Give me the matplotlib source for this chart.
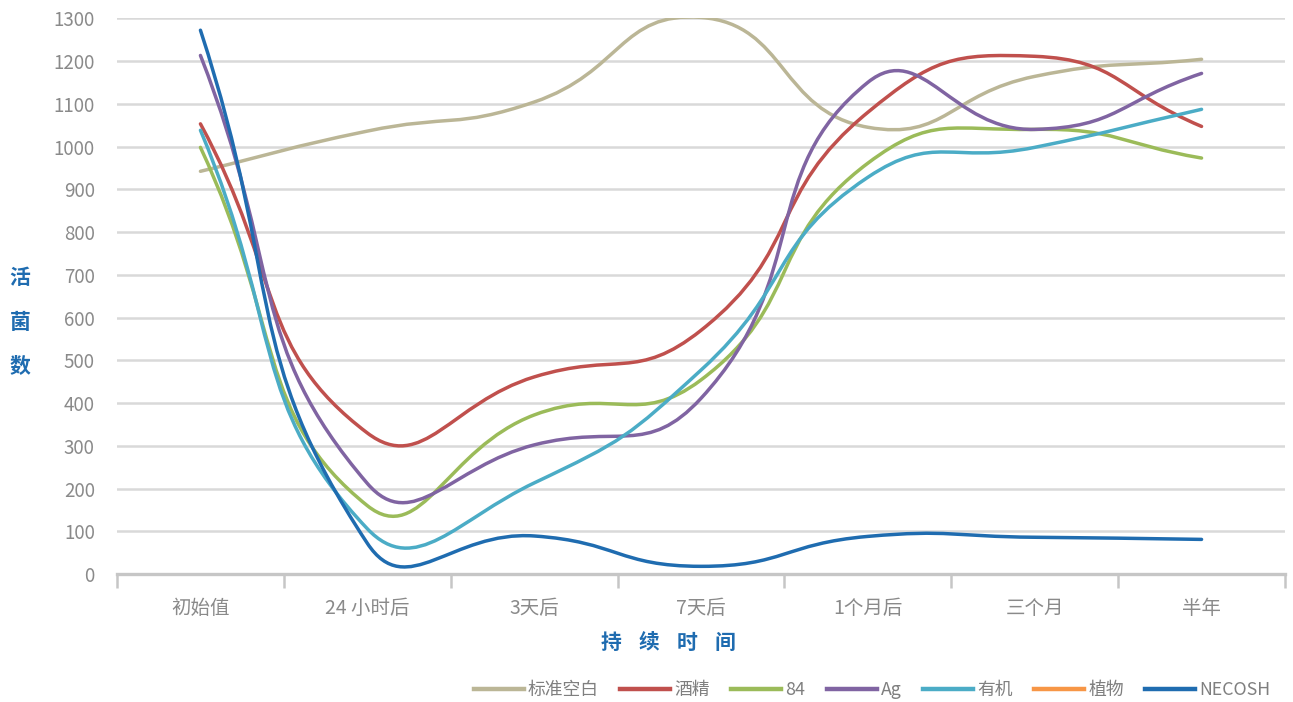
import numpy as np
import matplotlib
matplotlib.use("Agg")
import matplotlib.pyplot as plt
from matplotlib.path import Path
from matplotlib.patches import PathPatch
from matplotlib.lines import Line2D

plt.rcParams["font.family"] = ["Noto Sans CJK SC", "DejaVu Sans"]

categories = ["初始值", "24 小时后", "3天后", "7天后", "1个月后", "三个月", "半年"]
series_names = ["标准空白", "酒精", "84", "Ag", "有机", "植物", "NECOSH"]
blank = [942, 1036, 1104, 1302, 1045, 1164, 1204]
alcohol = [1053, 330, 461, 570, 1080, 1211, 1047]
s84 = [998, 160, 372, 454, 961, 1040, 973]
ag = [1213, 212, 302, 411, 1150, 1040, 1171]
organic = [1038, 106, 213, 477, 928, 998, 1087]
plant = []  # no visible data in the chart
necosh = [1272, 72, 89, 18, 88, 86, 81]

colors = ["#bbb696", "#c0504d", "#9bbb59", "#8064a2", "#4bacc6", "#f79646", "#1f6cb0"]
all_series = [blank, alcohol, s84, ag, organic, plant, necosh]

TENSION = 0.5


def excel_smooth(ax, xs, ys):
    # Excel-like smoothed line: Bezier segments, tangent scaled by segment lengths (in pixels)
    pts = ax.transData.transform(np.column_stack([xs, ys]).astype(float))
    n = len(pts)
    verts = [pts[0]]
    codes = [Path.MOVETO]
    for i in range(n - 1):
        p0 = pts[i - 1] if i > 0 else pts[i]
        p1, p2 = pts[i], pts[i + 1]
        p3 = pts[i + 2] if i + 2 < n else pts[i + 1]
        d01 = np.hypot(*(p1 - p0))
        d12 = np.hypot(*(p2 - p1))
        d23 = np.hypot(*(p3 - p2))
        f1 = TENSION * d12 / (d01 + d12) if d01 + d12 > 0 else 0
        f2 = TENSION * d12 / (d12 + d23) if d12 + d23 > 0 else 0
        c1 = p1 + (p2 - p0) * f1
        c2 = p2 - (p3 - p1) * f2
        verts += [c1, c2, p2]
        codes += [Path.CURVE4] * 3
    verts = ax.transData.inverted().transform(np.array(verts))
    return Path(verts, codes)


fig = plt.figure(figsize=(12.93, 7.02), dpi=100)
ax = fig.add_axes([0.0905, 0.1823, 0.9033, 0.7917])

x = np.arange(len(categories))
ax.set_xlim(-0.5, len(categories) - 0.5)
ax.set_ylim(0, 1300)

for vals, col in zip(all_series, colors):
    if len(vals) == 0:
        continue
    patch = PathPatch(excel_smooth(ax, x, vals), facecolor="none", edgecolor=col,
                      lw=2.5, capstyle="round", joinstyle="round", zorder=3)
    ax.add_patch(patch)

ax.set_yticks(np.arange(0, 1301, 100))
ax.yaxis.grid(True, color="#d9d9d9", lw=1.8)
ax.set_axisbelow(True)
for s in ["top", "right", "left"]:
    ax.spines[s].set_visible(False)
ax.spines["bottom"].set_color("#c6c6c6")
ax.spines["bottom"].set_linewidth(2.4)

ax.set_xticks(x)
ax.set_xticklabels(categories)
ax.set_xticks(np.arange(-0.5, len(categories), 1), minor=True)
ax.tick_params(axis="x", which="major", length=0, pad=17, labelsize=14, labelcolor="#8a8a8a")
ax.tick_params(axis="x", which="minor", length=10, width=1.8, color="#c6c6c6", direction="out")
ax.tick_params(axis="y", length=0, pad=16, labelsize=13.5, labelcolor="#8a8a8a")

# y axis title, stacked characters
for i, ch in enumerate("活菌数"):
    fig.text(20 / 1293, 1 - (278 + 44 * i) / 702, ch, color="#1f6cb0", fontsize=15,
             fontweight="bold", ha="center", va="center")
# x axis title, spaced characters
for i, ch in enumerate("持续时间"):
    fig.text((611 + 38 * i) / 1293, 1 - 642 / 702, ch, color="#1f6cb0", fontsize=15,
             fontweight="bold", ha="center", va="center")

handles = [Line2D([], [], color=c, lw=3.2) for c in colors]
fig.legend(handles, series_names, loc="center right", bbox_to_anchor=(0.995, 1 - 690 / 702),
           ncol=7, frameon=False, fontsize=12.8, handlelength=2.8, handletextpad=0.25,
           columnspacing=1.2, labelcolor="#7f7f7f")

fig.savefig("out.png", dpi=100)
